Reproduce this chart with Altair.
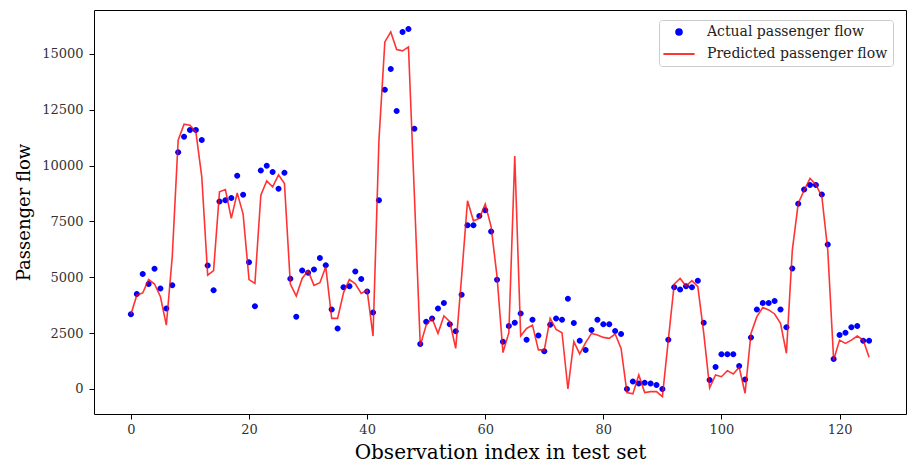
import altair as alt
import pandas as pd

idx = list(range(126))

actual = [
    3350, 4250, 5150, 4700, 5380, 4500, 3600, 4650, 10600, 11290,
    11600, 11600, 11150, 5530, 4420, 8400, 8450, 8550, 9550, 8700,
    5680, 3700, 9780, 10000, 9720, 8970, 9680, 4940, 3240, 5300,
    5200, 5350, 5870, 5540, 3560, 2710, 4560, 4600, 5260, 4930,
    4360, 3420, 8450, 13400, 14330, 12450, 15980, 16120, 11650, 2020,
    3010, 3160, 3600, 3850, 2900, 2580, 4220, 7330, 7330, 7750,
    8000, 7050, 4890, 2120, 2820, 2970, 3380, 2210, 3100, 2400,
    1690, 2880, 3160, 3100, 4040, 2950, 2160, 1750, 2640, 3100,
    2900, 2900, 2600, 2460, 0, 330, 250, 280, 250, 180,
    0, 2200, 4560, 4460, 4600, 4550, 4850, 2970, 400, 980,
    1550, 1550, 1550, 1030, 430, 2300, 3560, 3850, 3850, 3940,
    3560, 2770, 5400, 8300, 8930, 9130, 9130, 8710, 6470, 1340,
    2420, 2520, 2760, 2820, 2160, 2160,
]

predicted = [
    3350, 4200, 4300, 4900, 4700, 4130, 2860, 5920, 11140, 11860,
    11810, 11510, 9500, 5100, 5300, 8830, 8930, 7640, 8780, 7830,
    4900, 4730, 8680, 9320, 9050, 9590, 9200, 4700, 4160, 4950,
    5300, 4640, 4760, 5470, 3160, 3160, 4310, 4900, 4710, 4280,
    4430, 2370, 11140, 15540, 15990, 15200, 15140, 15320, 8700, 1950,
    2860, 3160, 2490, 3270, 3010, 1820, 5030, 8430, 7530, 7640,
    8280, 7260, 5030, 1630, 2520, 10430, 2370, 2710, 2860, 1750,
    1750, 3160, 2670, 2520, 0, 2120, 1570, 2080, 2490, 2420,
    2310, 2270, 2460, 1820, -160, -220, 630, -160, -120, -120,
    -340, 2190, 4700, 4950, 4610, 4850, 4580, 2500, 50, 630,
    550, 820, 670, 970, -190, 2490, 3240, 3650, 3540, 3360,
    2940, 1600, 6220, 8310, 8900, 9430, 9150, 8610, 6220, 1300,
    2190, 2040, 2190, 2370, 2190, 1420,
]

series_names = ["Actual passenger flow", "Predicted passenger flow"]
x_ticks = [0, 20, 40, 60, 80, 100, 120]
y_ticks = [0, 2500, 5000, 7500, 10000, 12500, 15000]

df_a = pd.DataFrame({"idx": idx, "value": actual, "series": series_names[0]})
df_p = pd.DataFrame({"idx": idx, "value": predicted, "series": series_names[1]})

FONT = "DejaVu Serif"

# small dot and a long horizontal stroke (custom symbol paths, unit box -1..1)
DOT_PATH = "M0.5,0A0.5,0.5 0 1,1 -0.5,0A0.5,0.5 0 1,1 0.5,0Z"
LINE_PATH = "M-2.6,0L2.6,0"
SYM_SIZE = 144

x_enc = alt.X(
    "idx:Q",
    scale=alt.Scale(domain=[-6.25, 131.25], nice=False, zero=False),
    axis=alt.Axis(
        values=x_ticks, title="Observation index in test set", grid=False,
        domain=False, tickSize=5, tickColor="black", tickWidth=1,
        labelFont=FONT, labelFontSize=13, labelColor="#333333", labelPadding=4,
        labelFlush=False, titleFont=FONT, titleFontSize=20,
        titleFontWeight="normal", titleColor="black", titlePadding=6,
    ),
)
y_enc = alt.Y(
    "value:Q",
    scale=alt.Scale(domain=[-1120, 16970], nice=False, zero=False),
    axis=alt.Axis(
        values=y_ticks, format="d", title="Passenger flow", grid=False,
        domain=False, tickSize=5, tickColor="black", tickWidth=1,
        labelFont=FONT, labelFontSize=13, labelColor="#333333", labelPadding=6,
        labelFlush=False, titleFont=FONT, titleFontSize=18,
        titleFontWeight="normal", titleColor="black", titlePadding=8,
    ),
)

leg = alt.Legend(
    title=None, orient="none", legendX=565, legendY=10, padding=5,
    fillColor="white", strokeColor="#cccccc", cornerRadius=3,
    labelFont=FONT, labelFontSize=14, labelColor="#222222",
    labelOffset=21, symbolOffset=8, symbolSize=SYM_SIZE,
    labelLimit=400, rowPadding=8, symbolStrokeWidth=1.6,
)

color_scale = alt.Scale(domain=series_names, range=["#0000ff", "#ff0000"])
shape_scale = alt.Scale(domain=series_names, range=[DOT_PATH, LINE_PATH])

points = alt.Chart(df_a).mark_point(filled=True, opacity=1, size=SYM_SIZE).encode(
    x=x_enc,
    y=y_enc,
    color=alt.Color("series:N", scale=color_scale, legend=leg),
    shape=alt.Shape("series:N", scale=shape_scale, legend=leg),
)

line = alt.Chart(df_p).mark_line(strokeWidth=1.6, opacity=0.8).encode(
    x=x_enc,
    y=y_enc,
    color=alt.Color("series:N", scale=color_scale, legend=leg),
)

chart = (
    alt.layer(points, line)
    .properties(
        width=812, height=404,
        autosize=alt.AutoSizeParams(type="none"),
        padding={"left": 94, "top": 10, "right": 2, "bottom": 49},
    )
    .configure_view(stroke="black", strokeWidth=1)
)

chart.save("out.html", embed_options={"renderer": "svg", "actions": False})
